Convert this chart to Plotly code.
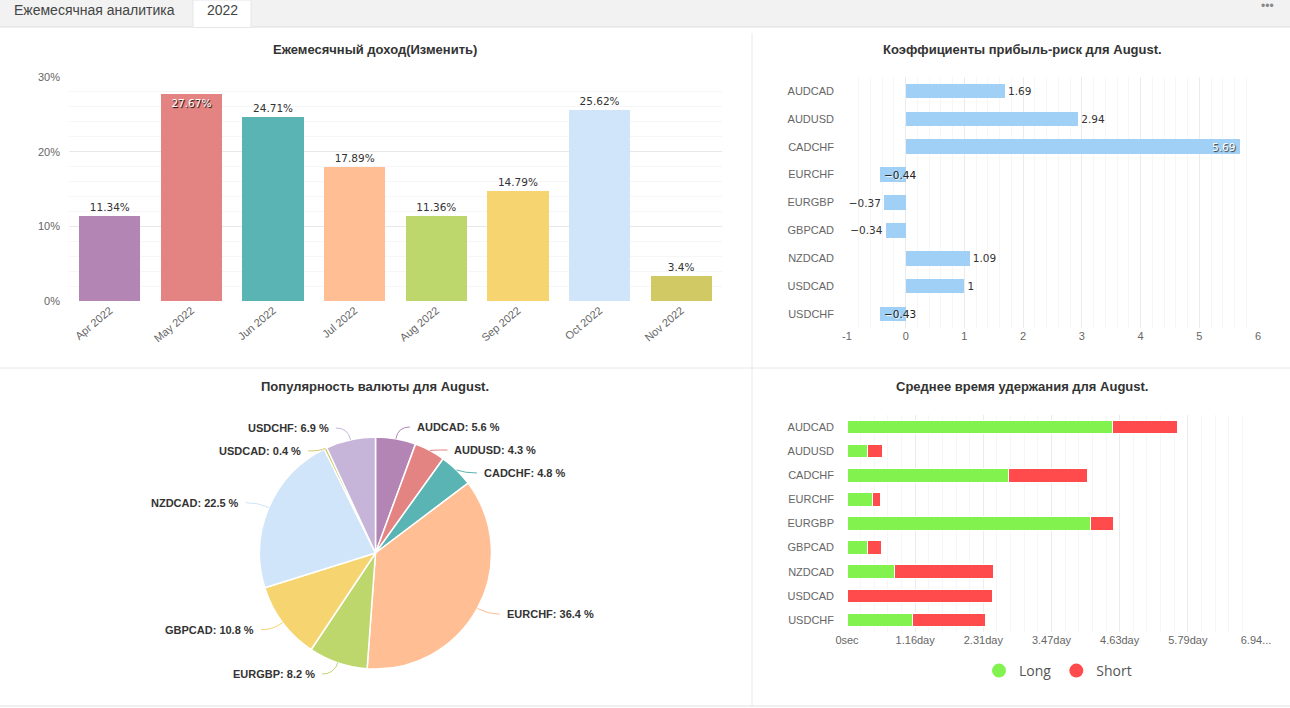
import math
import plotly.graph_objects as go

W, H = 1290, 708

# ---- data ----
months = ["Apr 2022", "May 2022", "Jun 2022", "Jul 2022", "Aug 2022", "Sep 2022", "Oct 2022", "Nov 2022"]
monthly_gain = [11.34, 27.67, 24.71, 17.89, 11.36, 14.79, 25.62, 3.4]

pairs = ["AUDCAD", "AUDUSD", "CADCHF", "EURCHF", "EURGBP", "GBPCAD", "NZDCAD", "USDCAD", "USDCHF"]
profit_risk = [1.69, 2.94, 5.69, -0.44, -0.37, -0.34, 1.09, 1, -0.43]
pr_ticks = [-1, 0, 1, 2, 3, 4, 5, 6]
pr_ticktext = ["-1", "0", "1", "2", "3", "4", "5", "6"]

popularity = [5.6, 4.3, 4.8, 36.4, 8.2, 10.8, 22.5, 0.4, 6.9]

# average holding time in seconds
hold_long = [389300, 30000, 237500, 36700, 357600, 30000, 70000, 0, 96500]
hold_short = [95000, 22400, 115100, 11800, 33200, 21000, 144500, 213000, 106200]

hold_ticks = [0, 100000, 200000, 300000, 400000, 500000, 600000]
hold_ticktext = ["0sec", "1.16day", "2.31day", "3.47day", "4.63day", "5.79day", "6.94..."]

palette = ["#b385b5", "#e38482", "#5ab4b3", "#ffbe94", "#bed76d", "#f6d470", "#d0e5f9", "#d0c964", "#c6b5d9"]

FONT = "Liberation Sans, Arial, sans-serif"
VFONT = "DejaVu Sans, sans-serif"


def px_x(x):
    return x / W


def px_y(y):
    return 1 - y / H


fig = go.Figure()
annotations = []
shapes = []

# ---- chart 1: monthly gain ----
top_val = max(monthly_gain)
pos1 = ["inside" if v == top_val else "outside" for v in monthly_gain]
fig.add_trace(go.Bar(
    x=months, y=monthly_gain, xaxis="x", yaxis="y",
    marker=dict(color=palette[:8], line=dict(width=0)),
    width=0.75,
    text=[f"{v}%" for v in monthly_gain], texttemplate="%{text}",
    textposition=pos1, insidetextanchor="end",
    outsidetextfont=dict(family=VFONT, size=10.5, color="#333"),
    insidetextfont=dict(family=VFONT, size=10.5, color="#ffffff", shadow="1px 1px 1px #000"),
    cliponaxis=False, showlegend=False, hoverinfo="skip",
))

# ---- chart 2: profit-risk ----
special = [(v > 5 or v < -0.4) for v in profit_risk]
fig.add_trace(go.Bar(
    y=pairs, x=profit_risk, orientation="h", xaxis="x2", yaxis="y2",
    marker=dict(color="#a0d0f5", line=dict(width=0)),
    width=0.52,
    text=["" if s else f"{v:g}".replace("-", "\u2212") for v, s in zip(profit_risk, special)],
    texttemplate="%{text}", textposition="outside",
    outsidetextfont=dict(family=VFONT, size=10.5, color="#333"),
    cliponaxis=False, showlegend=False, hoverinfo="skip",
))
for p, v, s in zip(pairs, profit_risk, special):
    if not s:
        continue
    if v > 0:
        annotations.append(dict(
            x=v, y=p, xref="x2", yref="y2", text=f"{v:g}", showarrow=False,
            xanchor="right", yanchor="middle", xshift=-3,
            font=dict(family=VFONT, size=10.5, color="#ffffff", shadow="1px 1px 1px #333")))
    else:
        annotations.append(dict(
            x=v, y=p, xref="x2", yref="y2", text=f"{v:g}".replace("-", "\u2212"), showarrow=False,
            xanchor="left", yanchor="middle", xshift=2,
            font=dict(family=VFONT, size=10.5, color="#222", shadow="1px 1px 1px #fff")))

# ---- chart 3: pie ----
PCX, PCY, PR = 375.5, 553.0, 116.0
fig.add_trace(go.Pie(
    labels=pairs, values=popularity, sort=False, direction="clockwise", rotation=0,
    marker=dict(colors=palette, line=dict(color="#ffffff", width=1.5)),
    textinfo="none",
    domain=dict(x=[px_x(PCX - PR), px_x(PCX + PR)], y=[px_y(PCY + PR), px_y(PCY - PR)]),
    showlegend=False, hoverinfo="skip",
))

# label layout derived from slice angles (leader lines + labels)
total = sum(popularity)
cum = 0.0
items = []
for lab, val, col in zip(pairs, popularity, palette):
    mid = (cum + val / 2) / total * 2 * math.pi
    cum += val
    s, c = math.sin(mid), math.cos(mid)
    ex, ey = PCX + PR * s, PCY - PR * c
    lx, ly = PCX + (PR + 12) * s, PCY - (PR + 12) * c
    items.append(dict(lab=lab, val=val, col=col, ex=ex, ey=ey, lx=lx, ly=ly, right=s >= 0))
for side in (True, False):
    grp = sorted([it for it in items if it["right"] == side], key=lambda d: d["ly"])
    prev = -1e9
    for it in grp:
        it["ly"] = max(it["ly"], prev + 23)
        prev = it["ly"]
for it in items:
    dx = 12 if it["right"] else -12
    hx = it["lx"] + dx
    shapes.append(dict(
        type="path", xref="paper", yref="paper",
        path=(f"M {px_x(it['ex'])},{px_y(it['ey'])} "
              f"Q {px_x(it['lx'])},{px_y(it['ly'])} {px_x(hx)},{px_y(it['ly'])}"),
        line=dict(color=it["col"], width=1)))
    annotations.append(dict(
        x=px_x(hx + (5 if it["right"] else -5)), y=px_y(it["ly"]), xref="paper", yref="paper",
        text=f"<b>{it['lab']}: {it['val']} %</b>", showarrow=False,
        xanchor="left" if it["right"] else "right", yanchor="middle",
        font=dict(family=FONT, size=11, color="#333")))

# ---- chart 4: holding time ----
fig.add_trace(go.Bar(
    y=pairs, x=hold_long, orientation="h", xaxis="x4", yaxis="y4", name="Long",
    marker=dict(color="#82f24f", line=dict(color="#ffffff", width=1)),
    width=0.56, showlegend=False, hoverinfo="skip",
))
fig.add_trace(go.Bar(
    y=pairs, x=hold_short, orientation="h", xaxis="x4", yaxis="y4", name="Short",
    marker=dict(color="#ff4b4b", line=dict(color="#ffffff", width=1)),
    width=0.56, showlegend=False, hoverinfo="skip",
))
for nm, col in [("Long", "#82f24f"), ("Short", "#ff4b4b")]:
    fig.add_trace(go.Scatter(
        x=[None], y=[None], mode="markers", name=nm, xaxis="x4", yaxis="y4",
        marker=dict(color=col, size=14, symbol="circle"), showlegend=True,
    ))

tickfont = dict(family=FONT, size=11, color="#666")

# ---- header & separators ----
shapes += [
    dict(type="rect", xref="paper", yref="paper", x0=0, x1=1, y0=px_y(27), y1=1,
         fillcolor="#f2f2f2", line=dict(width=0), layer="below"),
    dict(type="line", xref="paper", yref="paper", x0=0, x1=1, y0=px_y(27), y1=px_y(27),
         line=dict(color="#dddddd", width=1)),
    dict(type="rect", xref="paper", yref="paper", x0=px_x(193), x1=px_x(251), y0=px_y(27.5), y1=1,
         fillcolor="#ffffff", line=dict(color="#e6e6e6", width=1), layer="above"),
    dict(type="line", xref="paper", yref="paper", x0=px_x(752), x1=px_x(752), y0=px_y(706), y1=px_y(33),
         line=dict(color="#e8e8e8", width=1)),
    dict(type="line", xref="paper", yref="paper", x0=0, x1=1, y0=px_y(368), y1=px_y(368),
         line=dict(color="#e8e8e8", width=1)),
    dict(type="line", xref="paper", yref="paper", x0=0, x1=1, y0=px_y(706), y1=px_y(706),
         line=dict(color="#e0e0e0", width=1)),
]

title_font = dict(family=FONT, size=13, color="#333")
annotations += [
    dict(text="Ежемесячная аналитика", x=px_x(12), y=px_y(10), xref="paper", yref="paper",
         xanchor="left", yanchor="middle", showarrow=False, font=dict(family=FONT, size=14, color="#444")),
    dict(text="2022", x=px_x(222), y=px_y(10), xref="paper", yref="paper",
         xanchor="center", yanchor="middle", showarrow=False, font=dict(family=FONT, size=14, color="#444")),
    dict(text="•••", x=px_x(1267), y=px_y(6), xref="paper", yref="paper",
         xanchor="center", yanchor="middle", showarrow=False, font=dict(family=FONT, size=12, color="#888")),
    dict(text="<b>Ежемесячный доход(Изменить)</b>", x=px_x(375), y=px_y(50), xref="paper", yref="paper",
         xanchor="center", yanchor="middle", showarrow=False, font=title_font),
    dict(text="<b>Коэффициенты прибыль-риск для August.</b>", x=px_x(1022), y=px_y(50), xref="paper", yref="paper",
         xanchor="center", yanchor="middle", showarrow=False, font=title_font),
    dict(text="<b>Популярность валюты для August.</b>", x=px_x(375), y=px_y(386), xref="paper", yref="paper",
         xanchor="center", yanchor="middle", showarrow=False, font=title_font),
    dict(text="<b>Среднее время удержания для August.</b>", x=px_x(1022), y=px_y(386), xref="paper", yref="paper",
         xanchor="center", yanchor="middle", showarrow=False, font=title_font),
]

fig.update_layout(
    width=W, height=H, margin=dict(l=0, r=0, t=0, b=0, autoexpand=False),
    paper_bgcolor="#ffffff", plot_bgcolor="#ffffff",
    font=dict(family=FONT, size=11, color="#555"),
    barmode="stack",
    shapes=shapes, annotations=annotations,
    showlegend=True,
    legend=dict(orientation="h", x=px_x(1058), y=px_y(671), xanchor="center", yanchor="middle",
                traceorder="normal",
                font=dict(family="Open Sans, sans-serif", size=14, color="#555"),
                itemsizing="trace", bgcolor="rgba(0,0,0,0)"),
    # chart 1
    xaxis=dict(domain=[px_x(69), px_x(722)], anchor="y", tickangle=-40, tickfont=tickfont,
               showgrid=False, showline=False, ticks="", fixedrange=True),
    yaxis=dict(domain=[px_y(301), px_y(77)], anchor="x", range=[0, 30], dtick=10, ticksuffix="%",
               tickfont=tickfont, showgrid=True, gridcolor="#e8e8e8", zeroline=False,
               minor=dict(dtick=2, showgrid=True, gridcolor="#f6f6f6"), ticklabelstandoff=8),
    # chart 2
    xaxis2=dict(domain=[px_x(847), px_x(1258)], anchor="y2", range=[-1, 6],
                tickvals=pr_ticks, ticktext=pr_ticktext, tickfont=tickfont,
                showgrid=True, gridcolor="#ebebeb", zeroline=False, showline=False,
                minor=dict(dtick=0.2, showgrid=True, gridcolor="#f6f6f6")),
    yaxis2=dict(domain=[px_y(328), px_y(77)], anchor="x2", autorange="reversed", tickfont=tickfont,
                showgrid=False, zeroline=False, ticklabelstandoff=12),
    # chart 4
    xaxis4=dict(domain=[px_x(847), px_x(1256)], anchor="y4", range=[0, 600000],
                tickvals=hold_ticks, ticktext=hold_ticktext, tickfont=tickfont,
                showgrid=True, gridcolor="#ebebeb", zeroline=False, showline=False,
                minor=dict(dtick=20000, showgrid=True, gridcolor="#f6f6f6")),
    yaxis4=dict(domain=[px_y(632), px_y(415)], anchor="x4", autorange="reversed", tickfont=tickfont,
                showgrid=False, zeroline=False, ticklabelstandoff=12),
)

fig.write_html("out.html")
